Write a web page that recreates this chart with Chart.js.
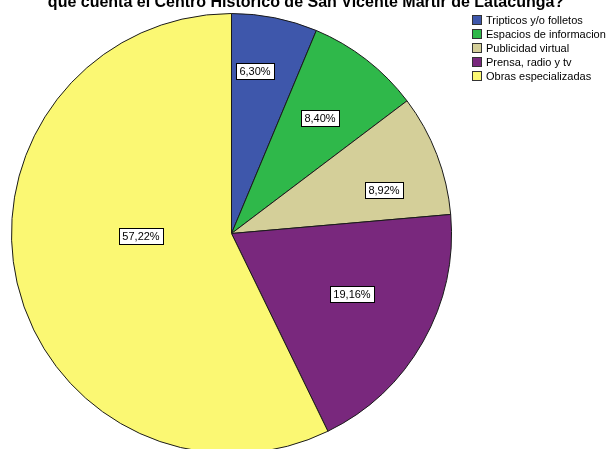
<!DOCTYPE html>
<html>
<head>
<meta charset="utf-8">
<script src="https://cdn.jsdelivr.net/npm/chart.js@4"></script>
<style>
  html, body { margin: 0; padding: 0; background: #fff; overflow: hidden; }
  #wrap { width: 608px; height: 460px; }
</style>
</head>
<body>
<div id="wrap"><canvas id="pie" width="608" height="460"></canvas></div>
<script>
const categories = ['Tripticos y/o folletos', 'Espacios de informacion', 'Publicidad virtual', 'Prensa, radio y tv', 'Obras especializadas'];
const percents = [6.30, 8.40, 8.92, 19.16, 57.22];
const percentLabels = ['6,30%', '8,40%', '8,92%', '19,16%', '57,22%'];
const colors = ['#3e57ab', '#2fb84a', '#d4cf99', '#79287d', '#fbf873'];
const titleLine = 'que cuenta el Centro Historico de San Vicente Martir de Latacunga?';

// where each value box sits: fraction of the radius and a small turn off the slice middle (deg)
const labelRadius = [0.746, 0.661, 0.721, 0.613, 0.411];
const labelTurn = [-3.1, -0.3, 5.1, -2.8, 11.6];

const FONT = '"Liberation Sans", Arial, sans-serif';

const titlePlugin = {
  id: 'clippedTitle',
  afterDraw(chart) {
    const ctx = chart.ctx;
    ctx.save();
    ctx.font = `bold 16px ${FONT}`;
    ctx.fillStyle = '#000';
    ctx.textAlign = 'center';
    ctx.textBaseline = 'alphabetic';
    ctx.fillText(titleLine, 306, 7);
    ctx.restore();
  },
};

const legendPlugin = {
  id: 'sideLegend',
  afterDraw(chart) {
    const ctx = chart.ctx;
    ctx.save();
    ctx.font = `11px ${FONT}`;
    ctx.textBaseline = 'middle';
    categories.forEach((name, i) => {
      const y = 20 + i * 14;
      ctx.fillStyle = colors[i];
      ctx.fillRect(472, y - 5, 10, 10);
      ctx.strokeStyle = '#333';
      ctx.lineWidth = 1;
      ctx.strokeRect(472.5, y - 4.5, 9, 9);
      ctx.fillStyle = '#000';
      ctx.fillText(name, 486, y + 0.5);
    });
    ctx.restore();
  },
};

const valueBoxes = {
  id: 'valueBoxes',
  afterDatasetsDraw(chart) {
    const ctx = chart.ctx;
    const arcs = chart.getDatasetMeta(0).data;
    ctx.save();
    ctx.font = `11px ${FONT}`;
    ctx.textAlign = 'center';
    ctx.textBaseline = 'middle';
    arcs.forEach((arc, i) => {
      const mid = (arc.startAngle + arc.endAngle) / 2 + labelTurn[i] * Math.PI / 180;
      const r = arc.outerRadius * labelRadius[i];
      const x = Math.round(arc.x + Math.cos(mid) * r);
      const y = Math.round(arc.y + Math.sin(mid) * r);
      const w = Math.ceil(ctx.measureText(percentLabels[i]).width) + 6;
      const h = 16;
      ctx.fillStyle = '#fff';
      ctx.fillRect(x - w / 2, y - h / 2, w, h);
      ctx.strokeStyle = '#000';
      ctx.lineWidth = 1;
      ctx.strokeRect(Math.round(x - w / 2) + 0.5, Math.round(y - h / 2) + 0.5, w, h);
      ctx.fillStyle = '#000';
      ctx.fillText(percentLabels[i], x, y + 1);
    });
    ctx.restore();
  },
};

new Chart(document.getElementById('pie'), {
  type: 'pie',
  data: {
    labels: categories,
    datasets: [
      {
        data: percents,
        backgroundColor: colors,
        borderColor: '#1a1a1a',
        borderWidth: 1,
      },
    ],
  },
  options: {
    responsive: false,
    animation: false,
    layout: { padding: { left: 11, right: 156, top: 13, bottom: 6 } },
    plugins: {
      legend: { display: false },
      title: { display: false },
      tooltip: { enabled: false },
    },
  },
  plugins: [valueBoxes, legendPlugin, titlePlugin],
});
</script>
</body>
</html>
